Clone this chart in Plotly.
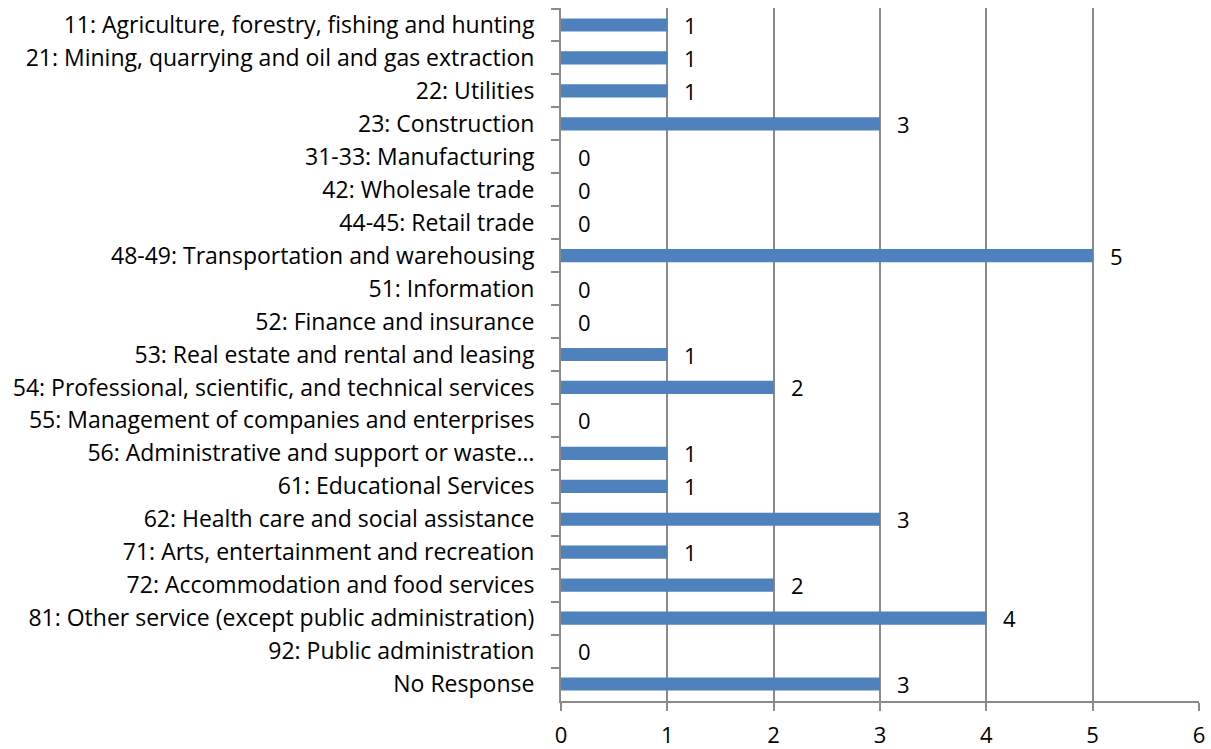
import plotly.graph_objects as go

categories = [
    "11: Agriculture, forestry, fishing and hunting",
    "21: Mining, quarrying and oil and gas extraction",
    "22: Utilities",
    "23: Construction",
    "31-33: Manufacturing",
    "42: Wholesale trade",
    "44-45: Retail trade",
    "48-49: Transportation and warehousing",
    "51: Information",
    "52: Finance and insurance",
    "53: Real estate and rental and leasing",
    "54: Professional, scientific, and technical services",
    "55: Management of companies and enterprises",
    "56: Administrative and support or waste\u2026",
    "61: Educational Services",
    "62: Health care and social assistance",
    "71: Arts, entertainment and recreation",
    "72: Accommodation and food services",
    "81: Other service (except public administration)",
    "92: Public administration",
    "No Response",
]
counts = [1, 1, 1, 3, 0, 0, 0, 5, 0, 0, 1, 2, 0, 1, 1, 3, 1, 2, 4, 0, 3]
x_ticks = [0, 1, 2, 3, 4, 5, 6]

FONT = "Open Sans"
SIZE = 23
NUM_SIZE = 22
GRID = "#8a8a8a"

fig = go.Figure()
fig.add_trace(go.Bar(
    x=counts,
    y=categories,
    orientation="h",
    marker=dict(color="#4F81BD", line=dict(width=0)),
    width=0.4,
    hoverinfo="x+y",
))

# value labels just past the end of each bar
for c, v in zip(categories, counts):
    fig.add_annotation(
        x=v, y=c, text=str(v), showarrow=False,
        xanchor="left", yanchor="middle", xshift=15, yshift=0,
        font=dict(family=FONT, size=NUM_SIZE, color="black"),
    )

fig.update_layout(
    width=1211, height=749,
    margin=dict(l=561, r=12, t=8, b=48),
    paper_bgcolor="white", plot_bgcolor="white",
    showlegend=False,
    font=dict(family=FONT, size=SIZE, color="black"),
    bargap=0.6,
)
fig.update_xaxes(
    range=[0, 6], tickvals=x_ticks,
    showgrid=True, gridcolor=GRID, gridwidth=2,
    showline=True, linecolor=GRID, linewidth=2,
    ticks="outside", ticklen=8, tickcolor=GRID, tickwidth=2,
    zeroline=False, automargin=False,
    tickfont=dict(family=FONT, size=NUM_SIZE, color="black"),
    ticklabelstandoff=6,
)
fig.update_yaxes(
    autorange="reversed", type="category",
    showgrid=False, zeroline=False, automargin=False,
    showline=True, linecolor=GRID, linewidth=2,
    ticks="outside", ticklen=8, tickcolor=GRID, tickwidth=2,
    tickson="boundaries",
    tickfont=dict(family=FONT, size=SIZE, color="black"),
    ticklabelstandoff=20,
)

fig.write_html("out.html")
